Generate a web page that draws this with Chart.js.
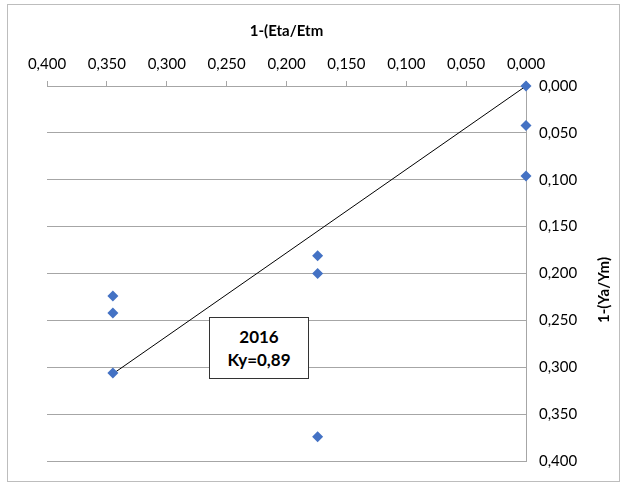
<!DOCTYPE html>
<html>
<head>
<meta charset="utf-8">
<script src="https://cdn.jsdelivr.net/npm/chart.js@4"></script>
<style>
  html, body { margin: 0; padding: 0; background: #fff; }
  #wrap { position: relative; width: 621px; height: 483px; }
  #box {
    position: absolute; left: 209px; top: 317px; width: 100px; height: 62px;
    border: 1px solid #333; background: #fff; box-sizing: border-box;
    font-family: Lato, "Open Sans", sans-serif; font-weight: bold; font-size: 17px;
    text-align: center; line-height: 23px; color: #000;
    display: flex; flex-direction: column; justify-content: center;
  }
</style>
</head>
<body>
<div id="wrap">
  <canvas id="c" width="621" height="483"></canvas>
  <div id="box"><div>2016</div><div>Ky=0,89</div></div>
</div>
<script>
const xTitle = "1-(Eta/Etm";
const yTitle = "1-(Ya/Ym)";
const xValues = [0.000, 0.000, 0.000, 0.174, 0.174, 0.174, 0.345, 0.345, 0.345];
const yValues = [0.000, 0.042, 0.096, 0.181, 0.200, 0.374, 0.224, 0.242, 0.306];
const trendX = [0.000, 0.345];
const trendY = [0.000, 0.307];
const axisMin = 0, axisMax = 0.4, axisStep = 0.05;

const fmt = v => Number(v).toFixed(3).replace('.', ',');
const FONT = 'Lato, "Open Sans", sans-serif';

const extras = {
  id: 'extras',
  afterDraw(chart) {
    const ctx = chart.ctx;
    ctx.save();
    ctx.strokeStyle = '#bdbdbd';
    ctx.lineWidth = 1;
    ctx.strokeRect(7.5, 4.5, 612, 477);
    ctx.fillStyle = '#000';
    ctx.font = 'bold 15px ' + FONT;
    ctx.textAlign = 'center';
    ctx.textBaseline = 'middle';
    ctx.translate(604, 290);
    ctx.rotate(-Math.PI / 2);
    ctx.fillText(yTitle, 0, 0);
    ctx.restore();
  }
};

new Chart(document.getElementById('c'), {
  type: 'scatter',
  data: {
    datasets: [
      {
        label: 'data',
        data: xValues.map((x, i) => ({ x, y: yValues[i] })),
        pointStyle: 'rectRot',
        pointRadius: 5.5,
        pointHoverRadius: 5.5,
        backgroundColor: '#4472C4',
        borderColor: '#4472C4',
        borderWidth: 0,
        clip: false,
        order: 1
      },
      {
        label: 'trend',
        data: trendX.map((x, i) => ({ x, y: trendY[i] })),
        showLine: true,
        borderColor: '#000',
        borderWidth: 1,
        pointRadius: 0,
        fill: false,
        clip: false,
        order: 2
      }
    ]
  },
  options: {
    responsive: false,
    animation: false,
    devicePixelRatio: 1,
    layout: { padding: { left: 47, right: 0, top: 0, bottom: 19 } },
    plugins: { legend: { display: false }, tooltip: { enabled: false } },
    scales: {
      x: {
        type: 'linear',
        position: 'top',
        reverse: true,
        min: axisMin, max: axisMax,
        afterFit: s => { s.height = 86; },
        afterBuildTicks: s => { s.ticks = []; for (let v = axisMin; v <= axisMax + 1e-9; v += axisStep) s.ticks.push({ value: +v.toFixed(3) }); },
        ticks: { callback: v => fmt(v), color: '#000', font: { family: FONT, size: 15 }, padding: 8, maxRotation: 0, autoSkip: false },
        grid: { drawOnChartArea: false, drawTicks: true, tickLength: 5, color: '#a6a6a6' },
        border: { display: true, color: '#a6a6a6' },
        title: { display: true, text: xTitle, color: '#000', font: { family: FONT, size: 15, weight: 'bold' }, padding: { top: 22, bottom: 0 } }
      },
      y: {
        type: 'linear',
        position: 'right',
        reverse: true,
        min: axisMin, max: axisMax,
        afterFit: s => { s.width = 95; },
        afterBuildTicks: s => { s.ticks = []; for (let v = axisMin; v <= axisMax + 1e-9; v += axisStep) s.ticks.push({ value: +v.toFixed(3) }); },
        ticks: { callback: v => fmt(v), color: '#000', font: { family: FONT, size: 15 }, padding: 13, autoSkip: false },
        grid: { drawTicks: false, color: '#a6a6a6' },
        border: { display: true, color: '#a6a6a6' },
        title: { display: false }
      }
    }
  },
  plugins: [extras]
});
</script>
</body>
</html>
